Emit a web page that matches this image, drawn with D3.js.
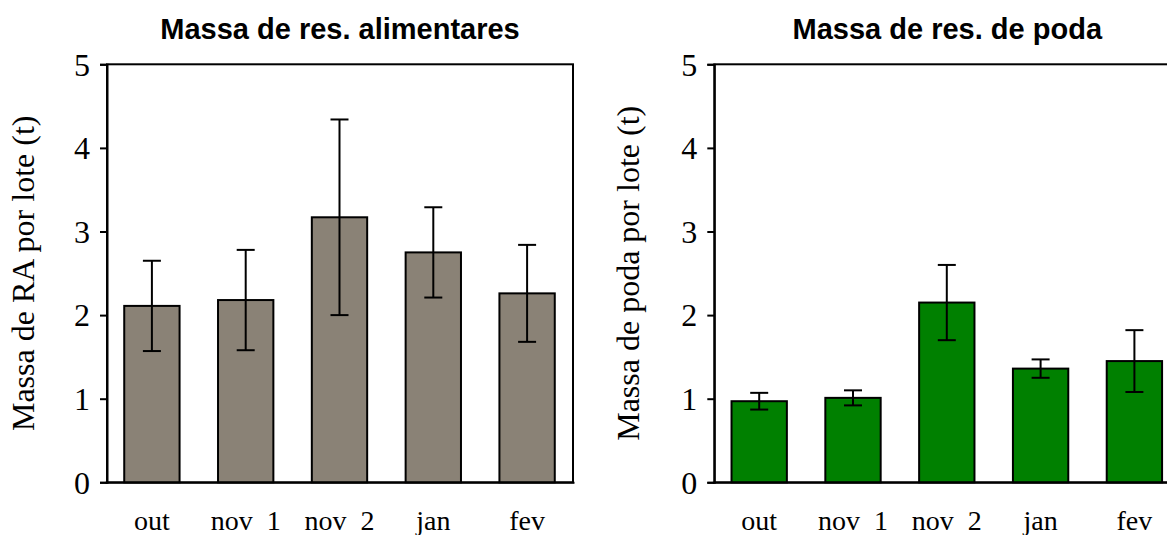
<!DOCTYPE html>
<html>
<head>
<meta charset="utf-8">
<script src="https://cdn.jsdelivr.net/npm/d3@7"></script>
<style>
  html, body { margin: 0; padding: 0; background: #fff; }
  svg { display: block; }
</style>
</head>
<body>
<svg id="chart" width="1167" height="535"></svg>
<script>
// ---- data ----
const categories = ["out", "nov  1", "nov  2", "jan", "fev"];
const yTicks = [0, 1, 2, 3, 4, 5];

const alimentaresMean = [2.11, 2.18, 3.17, 2.75, 2.26];
const alimentaresErr  = [0.54, 0.60, 1.17, 0.54, 0.58];

const podaMean = [0.97, 1.01, 2.15, 1.36, 1.45];
const podaErr  = [0.10, 0.09, 0.45, 0.11, 0.37];

const titles = ["Massa de res. alimentares", "Massa de res. de poda"];
const yLabels = ["Massa de RA por lote (t)", "Massa de poda por lote (t)"];
const colors = ["#8a8276", "#008000"];

// ---- layout ----
const svg = d3.select("#chart");
const plotTop = 64.3, plotBottom = 482.3, plotW = 466;
const panels = [
  { x0: 107, mean: alimentaresMean, err: alimentaresErr, title: titles[0], ylab: yLabels[0], color: colors[0], ylabX: 34 },
  { x0: 714.3, mean: podaMean, err: podaErr, title: titles[1], ylab: yLabels[1], color: colors[1], ylabX: 639 }
];

const y = d3.scaleLinear().domain([0, 5]).range([plotBottom, plotTop]);

panels.forEach(p => {
  const g = svg.append("g");
  const x = d3.scaleBand().domain(categories)
    .range([p.x0 - 2, p.x0 + plotW + 1])
    .paddingInner(0.41).paddingOuter(0.205);

  // plot frame
  g.append("rect")
    .attr("x", p.x0).attr("y", plotTop)
    .attr("width", plotW).attr("height", plotBottom - plotTop)
    .attr("fill", "none").attr("stroke", "#000").attr("stroke-width", 2);

  // bars
  g.selectAll("rect.bar").data(categories).enter().append("rect")
    .attr("class", "bar")
    .attr("x", d => x(d))
    .attr("y", (d, i) => y(p.mean[i]))
    .attr("width", x.bandwidth())
    .attr("height", (d, i) => y(0) - y(p.mean[i]))
    .attr("fill", p.color)
    .attr("stroke", "#000").attr("stroke-width", 2);

  // error bars
  const capW = 18;
  const eb = g.selectAll("g.err").data(categories).enter().append("g").attr("class", "err");
  eb.append("line")
    .attr("x1", d => x(d) + x.bandwidth() / 2).attr("x2", d => x(d) + x.bandwidth() / 2)
    .attr("y1", (d, i) => y(p.mean[i] + p.err[i])).attr("y2", (d, i) => y(p.mean[i] - p.err[i]))
    .attr("stroke", "#000").attr("stroke-width", 2);
  [1, -1].forEach(s => {
    eb.append("line")
      .attr("x1", d => x(d) + x.bandwidth() / 2 - capW / 2).attr("x2", d => x(d) + x.bandwidth() / 2 + capW / 2)
      .attr("y1", (d, i) => y(p.mean[i] + s * p.err[i])).attr("y2", (d, i) => y(p.mean[i] + s * p.err[i]))
      .attr("stroke", "#000").attr("stroke-width", 2);
  });

  // y axis
  const yAxis = d3.axisLeft(y).tickValues(yTicks).tickSize(7).tickPadding(10).tickFormat(d3.format("d"));
  const ya = g.append("g").attr("transform", `translate(${p.x0},0)`).call(yAxis);
  ya.select(".domain").attr("stroke", "#000").attr("stroke-width", 2);
  ya.selectAll(".tick line").attr("stroke", "#000").attr("stroke-width", 2);
  ya.selectAll(".tick text")
    .attr("font-family", "'Liberation Serif', 'Times New Roman', serif")
    .attr("font-size", 32).attr("fill", "#000").attr("dy", "0.34em");

  // x axis
  const xAxis = d3.axisBottom(x).tickSize(0).tickPadding(0);
  const xa = g.append("g").attr("transform", `translate(0,${plotBottom})`).call(xAxis);
  xa.select(".domain").attr("stroke", "#000").attr("stroke-width", 2);
  xa.selectAll(".tick text")
    .attr("font-family", "'Liberation Serif', 'Times New Roman', serif")
    .attr("font-size", 28).attr("fill", "#000")
    .attr("dy", null).attr("y", 48)
    .style("white-space", "pre");

  // title
  g.append("text")
    .attr("x", p.x0 + plotW / 2).attr("y", 39)
    .attr("text-anchor", "middle")
    .attr("font-family", "'Liberation Sans', Arial, sans-serif")
    .attr("font-weight", "bold").attr("font-size", 29)
    .text(p.title);

  // y label
  g.append("text")
    .attr("transform", `translate(${p.ylabX},${(plotTop + plotBottom) / 2}) rotate(-90)`)
    .attr("text-anchor", "middle")
    .attr("font-family", "'Liberation Serif', 'Times New Roman', serif")
    .attr("font-size", 32)
    .text(p.ylab);
});
</script>
</body>
</html>
